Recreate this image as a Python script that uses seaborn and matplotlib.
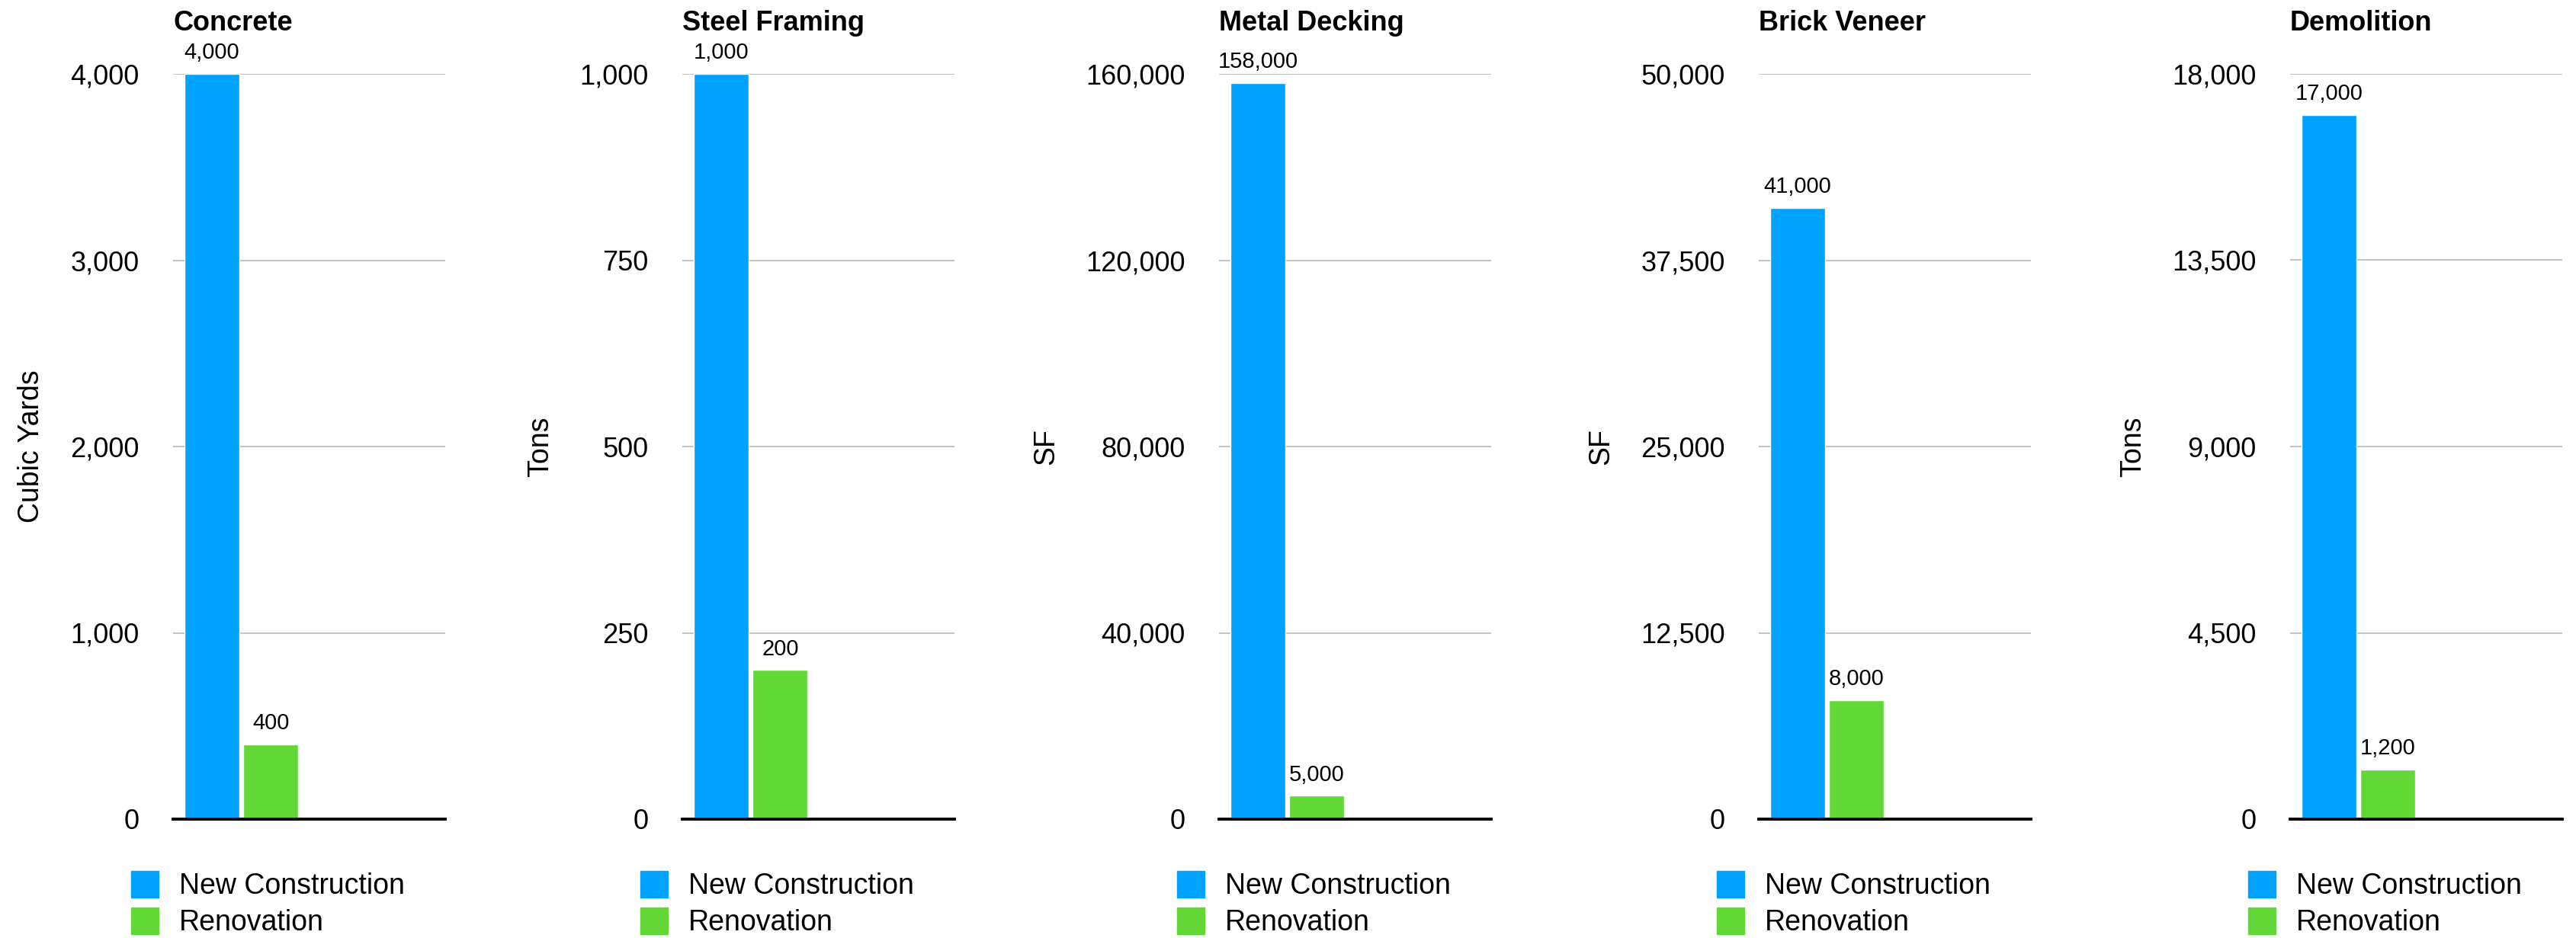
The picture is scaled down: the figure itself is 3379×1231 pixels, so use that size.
import matplotlib
matplotlib.use("Agg")
import matplotlib.pyplot as plt
import matplotlib.patches as mpatches
import seaborn as sns
import pandas as pd

# ---- data ----
panels = ["Concrete", "Steel Framing", "Metal Decking", "Brick Veneer", "Demolition"]
units = ["Cubic Yards", "Tons", "SF", "SF", "Tons"]
series = ["New Construction", "Renovation"]
new_construction = [4000, 1000, 158000, 41000, 17000]
renovation = [400, 200, 5000, 8000, 1200]
y_max = [4000, 1000, 160000, 50000, 18000]

colors = ["#00A2FF", "#61D836"]

sns.set_theme(style="white")
plt.rcParams["font.family"] = ["Liberation Sans", "DejaVu Sans"]
plt.rcParams["text.color"] = "black"
plt.rcParams["axes.labelcolor"] = "black"
plt.rcParams["xtick.color"] = "black"
plt.rcParams["ytick.color"] = "black"

W, H = 3379, 1231
fig = plt.figure(figsize=(W / 100, H / 100), dpi=100)

lefts = [227, 895, 1599, 2307, 3004]
ax_w = 357
ax_top, ax_bot = 97, 1075

for i, name in enumerate(panels):
    ax = fig.add_axes([lefts[i] / W, 1 - ax_bot / H, ax_w / W, (ax_bot - ax_top) / H])
    df = pd.DataFrame({
        "Group": [name, name],
        "Series": series,
        "Value": [new_construction[i], renovation[i]],
    })
    sns.barplot(data=df, x="Group", y="Value", hue="Series", palette=colors,
                width=0.8, gap=0.07, saturation=1, ax=ax, legend=False, zorder=3)
    ax.set_xlim(-0.463, 1.38)
    ax.set_ylim(0, y_max[i])
    ticks = [y_max[i] * k / 4 for k in range(5)]
    ax.set_yticks(ticks)
    ax.set_yticklabels([f"{t:,.0f}" for t in ticks], fontsize=26)
    ax.tick_params(axis="y", length=0, pad=32)
    ax.set_xticks([])
    ax.set_xlabel("")
    ax.set_ylabel(units[i], fontsize=27, labelpad=24)
    ax.grid(axis="y", color="#c4c4c4", linewidth=1.5, zorder=0)
    ax.set_axisbelow(True)
    for s in ["top", "right", "left"]:
        ax.spines[s].set_visible(False)
    ax.spines["bottom"].set_color("black")
    ax.spines["bottom"].set_linewidth(2.8)
    ax.spines["bottom"].set_zorder(4)
    ax.set_title(name, loc="left", fontsize=26, fontweight="bold", pad=41)
    vals = [new_construction[i], renovation[i]]
    for c, v in zip(ax.containers, vals):
        ax.bar_label(c, labels=[f"{v:,.0f}"], padding=10, fontsize=21)
    handles = [mpatches.Patch(color=colors[0], label=series[0]),
               mpatches.Patch(color=colors[1], label=series[1])]
    ax.legend(handles=handles, loc="upper left",
              bbox_to_anchor=(-55 / ax_w, -68 / (ax_bot - ax_top)),
              frameon=False, fontsize=27, borderpad=0, borderaxespad=0,
              handlelength=0.95, handleheight=1.06, handletextpad=0.72,
              labelspacing=0.25)

fig.savefig("out.png", dpi=100)
